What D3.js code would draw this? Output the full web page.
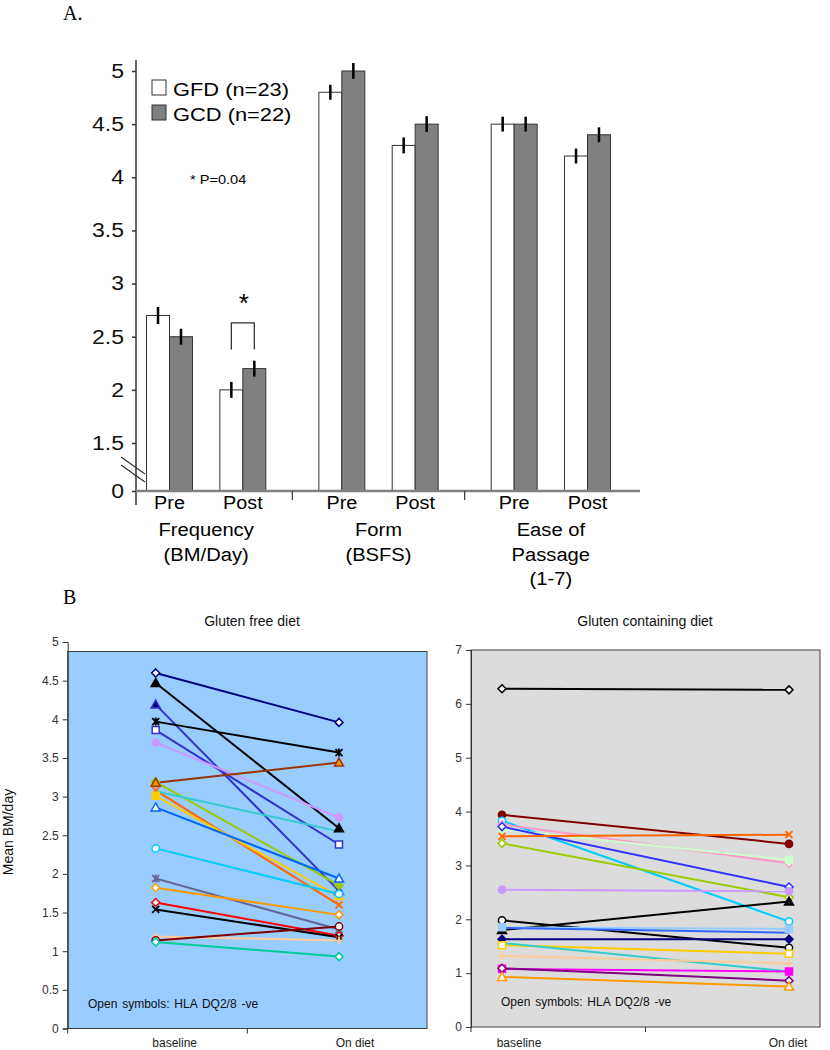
<!DOCTYPE html>
<html><head><meta charset="utf-8">
<script src="https://cdn.jsdelivr.net/npm/d3@7"></script>
<style>
body{margin:0;background:#fff;}
svg{display:block;font-family:"Liberation Sans",Arial,sans-serif;}
</style></head><body>
<svg id="chart" width="830" height="1050"></svg>
<script>
// ================= Panel A data =================
const groups = ["Frequency", "Form", "Ease"];
const groupLabels = [["Frequency", "(BM/Day)"], ["Form", "(BSFS)"], ["Ease of", "Passage", "(1-7)"]];
const phases = ["Pre", "Post"];
const diets = ["GFD", "GCD"];
const legendLabels = ["GFD (n=23)", "GCD (n=22)"];
// order: Freq Pre, Freq Post, Form Pre, Form Post, Ease Pre, Ease Post
const gfdMeans = [2.7, 2.0, 4.8, 4.3, 4.5, 4.2];
const gcdMeans = [2.5, 2.2, 5.0, 4.5, 4.5, 4.4];
const gfdErr = [0.08, 0.075, 0.07, 0.075, 0.07, 0.07];
const gcdErr = [0.075, 0.075, 0.075, 0.075, 0.07, 0.07];
const yTicksA = [0, 1.5, 2, 2.5, 3, 3.5, 4, 4.5, 5];
const bracketRange = [2.38, 2.63];

// ================= Panel B data =================
const dietCats = ["baseline", "On diet"];
const gfdBase = [4.60, 4.47, 4.19, 3.97, 3.86, 3.70, 3.19, 3.18, 3.08, 3.01, 3.07, 2.86, 2.33, 1.94, 1.82, 1.63, 1.54, 1.19, 1.14, 1.12];
const gfdOn   = [3.96, 2.59, 1.78, 3.57, 2.38, 2.73, 1.85, 3.44, 1.60, 1.71, 2.55, 1.94, 1.74, 1.28, 1.47, 1.20, 1.18, 1.14, 1.32, 0.93];
const gfdColors = ["#000080", "#000000", "#3333cc", "#000000", "#3333cc", "#cc99ff", "#99cc00", "#993300", "#ff6600", "#ffcc00",
                   "#33cccc", "#0066ff", "#00ccff", "#666699", "#ff9900", "#ff0000", "#000000", "#ffcc99", "#800000", "#00cc99"];
const gfdMarkers = ["diamond", "triangle", "triangle", "star", "square", "circle", "diamond", "triangle", "x", "square",
                    "none", "triangle", "circle", "star", "diamond", "diamond", "x", "plus", "circle", "diamond"];
const gfdFills = ["#ffffff", null, "#000080", null, "#ffffff", null, null, "#ff9900", null, null,
                  null, "#ffffff", "#ffffff", null, "#ffffff", "#ffffff", null, null, "#ffffff", "#ffffff"];

const gcdBase = [6.28, 3.94, 3.83, 3.76, 3.67, 3.72, 3.54, 3.41, 2.55, 1.98, 1.80, 1.85, 1.84, 1.63, 1.52, 1.56, 1.32, 1.08, 1.09, 0.93];
const gcdOn   = [6.26, 3.40, 1.96, 3.04, 3.10, 2.60, 3.57, 2.41, 2.52, 1.47, 2.33, 1.82, 1.75, 1.63, 1.36, 1.03, 1.18, 1.03, 0.86, 0.75];
const gcdColors = ["#000000", "#800000", "#00ccff", "#ff99cc", "#ccffcc", "#3333ff", "#ff6600", "#99cc00", "#cc99ff", "#000000",
                   "#000000", "#99ccff", "#3366ff", "#000080", "#ffcc00", "#33cccc", "#ffcc99", "#ff00ff", "#800080", "#ff9900"];
const gcdMarkers = ["diamond", "circle", "circle", "diamond", "square", "diamond", "x", "diamond", "circle", "circle",
                    "triangle", "square", "none", "diamond", "square", "none", "plus", "square", "diamond", "triangle"];
const gcdFills = ["#ffffff", null, "#ffffff", "#ffffff", null, "#ffffff", null, "#ffffff", null, "#ffffff",
                  null, null, null, null, "#ffffff", null, null, null, "#ffffff", "#ffffff"];

// ================= Drawing =================
const svg = d3.select("#chart");
const SERIF = '"Liberation Serif","Times New Roman",serif';

function stretch(sel, k) {
  sel.each(function () {
    const w = this.getComputedTextLength();
    this.setAttribute("textLength", w * k);
    this.setAttribute("lengthAdjust", "spacingAndGlyphs");
  });
}

// ---------- Panel A ----------
const A = svg.append("g");
A.append("text").attr("x", 63).attr("y", 20).attr("font-family", SERIF).attr("font-size", 20).text("A.");

const yA = d3.scaleLinear().domain([0, 1.5, 5]).range([491, 443, 71]);
const xG = d3.scaleBand().domain(groups).range([120, 637]);
const xP = d3.scaleBand().domain(phases).range([0, xG.bandwidth()]).paddingOuter(0.175);
const xD = d3.scaleBand().domain(diets).range([0, xP.bandwidth()]).paddingOuter(0.596);

const rows = [];
groups.forEach((g, gi) => phases.forEach((p, pi) => {
  const i = gi * 2 + pi;
  rows.push({ g, p, diet: "GFD", v: gfdMeans[i], e: gfdErr[i] });
  rows.push({ g, p, diet: "GCD", v: gcdMeans[i], e: gcdErr[i] });
}));
const barX = d => xG(d.g) + xP(d.p) + xD(d.diet);
const barC = d => barX(d) + xD.bandwidth() / 2;

A.selectAll("rect.bar").data(rows).join("rect")
  .attr("class", "bar")
  .attr("x", barX).attr("width", xD.bandwidth())
  .attr("y", d => yA(d.v)).attr("height", d => yA(0) - yA(d.v))
  .attr("fill", d => d.diet === "GFD" ? "#ffffff" : "#808080")
  .attr("stroke", "#333").attr("stroke-width", 1);

A.selectAll("line.err").data(rows).join("line")
  .attr("x1", barC).attr("x2", barC)
  .attr("y1", d => yA(d.v + d.e)).attr("y2", d => yA(d.v - d.e))
  .attr("stroke", "#000").attr("stroke-width", 2.5);

// y axis
const yAxisA = A.append("g").attr("transform", "translate(136,0)")
  .call(d3.axisLeft(yA).tickValues(yTicksA).tickSize(4).tickPadding(8).tickFormat(d => String(d)));
yAxisA.select(".domain").remove();
yAxisA.selectAll(".tick line").attr("stroke", "#333").attr("stroke-width", 1.5);
yAxisA.selectAll(".tick text").attr("font-size", 20).attr("fill", "#111")
  .attr("font-family", '"Liberation Sans",Arial,sans-serif').call(stretch, 1.15);
A.append("line").attr("x1", 136).attr("x2", 136).attr("y1", 60).attr("y2", 505)
  .attr("stroke", "#333").attr("stroke-width", 1.5);

// x axis
A.append("line").attr("x1", 136).attr("x2", 640).attr("y1", yA(0)).attr("y2", yA(0))
  .attr("stroke", "#808080").attr("stroke-width", 2.5);
A.selectAll("line.sep").data(groups.slice(1)).join("line")
  .attr("x1", d => xG(d)).attr("x2", d => xG(d)).attr("y1", yA(0)).attr("y2", yA(0) + 9)
  .attr("stroke", "#333").attr("stroke-width", 1.2);

// axis break marks
[0, 8].forEach(off => {
  A.append("line").attr("x1", 121).attr("y1", 457 + off).attr("x2", 145).attr("y2", 474 + off)
    .attr("stroke", "#333").attr("stroke-width", 1.2);
});

// phase labels
const phaseRows = [];
groups.forEach(g => phases.forEach(p => phaseRows.push({ g, p })));
A.selectAll("text.ph").data(phaseRows).join("text")
  .attr("x", d => xG(d.g) + xP(d.p) + xP.bandwidth() / 2).attr("y", 509)
  .attr("text-anchor", "middle").attr("font-size", 18).text(d => d.p).call(stretch, 1.1);

// group labels
groups.forEach((g, gi) => {
  groupLabels[gi].forEach((t, li) => {
    A.append("text").attr("x", xG(g) + xG.bandwidth() / 2).attr("y", 536 + li * 24.5)
      .attr("text-anchor", "middle").attr("font-size", 18).text(t).call(stretch, 1.12);
  });
});

// legend
diets.forEach((d, i) => {
  A.append("rect").attr("x", 152).attr("y", 80 + i * 25).attr("width", 14).attr("height", 15)
    .attr("fill", i === 0 ? "#ffffff" : "#808080").attr("stroke", "#333").attr("stroke-width", 1);
  A.append("text").attr("x", 173).attr("y", 96 + i * 24.5).attr("font-size", 19)
    .text(legendLabels[i]).call(stretch, 1.15);
});
A.append("text").attr("x", 190).attr("y", 184).attr("font-size", 13).text("* P=0.04").call(stretch, 1.12);

// significance bracket
const postGFD = rows.find(r => r.g === "Frequency" && r.p === "Post" && r.diet === "GFD");
const postGCD = rows.find(r => r.g === "Frequency" && r.p === "Post" && r.diet === "GCD");
const bx1 = barC(postGFD), bx2 = barC(postGCD);
A.append("path")
  .attr("d", `M${bx1},${yA(bracketRange[0])}V${yA(bracketRange[1])}H${bx2}V${yA(bracketRange[0])}`)
  .attr("fill", "none").attr("stroke", "#333").attr("stroke-width", 1.3);
A.append("text").attr("x", (bx1 + bx2) / 2 + 1).attr("y", 312).attr("text-anchor", "middle")
  .attr("font-size", 26).text("*");

// ---------- Panel B ----------
const B = svg.append("g");
B.append("text").attr("x", 63).attr("y", 604).attr("font-family", SERIF).attr("font-size", 20).text("B");

function markerPath(shape) {
  switch (shape) {
    case "diamond": return "M0,-4L4,0L0,4L-4,0Z";
    case "triangle": return "M0,-4.5L4.5,3.5L-4.5,3.5Z";
    case "square": return "M-3.5,-3.5H3.5V3.5H-3.5Z";
    case "circle": return "M3.6,0A3.6,3.6 0 1,1 -3.6,0A3.6,3.6 0 1,1 3.6,0Z";
    case "x": return "M-3.5,-3.5L3.5,3.5M-3.5,3.5L3.5,-3.5";
    case "star": return "M-3.5,-3.5L3.5,3.5M-3.5,3.5L3.5,-3.5M0,-4V4";
    case "plus": return "M-4,0H4M0,-4V4";
    default: return "";
  }
}

function drawPanel(opts) {
  const { x0, x1, yTop, y, x, base, on, colors, markers, fills, ticks, title, titleX, labelDx } = opts;
  const g = B.append("g");
  const y0 = y(0);
  g.append("rect").attr("x", x0).attr("y", yTop).attr("width", x1 - x0).attr("height", y0 - yTop)
    .attr("fill", opts.bg).attr("stroke", "#404040").attr("stroke-width", 1);
  // y axis
  const ax = g.append("g").attr("transform", `translate(${x0},0)`)
    .call(d3.axisLeft(y).tickValues(ticks).tickSize(5).tickPadding(4).tickFormat(d => String(d)));
  ax.select(".domain").attr("stroke", "#333");
  ax.selectAll(".tick line").attr("stroke", "#333");
  ax.selectAll(".tick text").attr("font-size", 12).attr("fill", "#333")
    .attr("font-family", '"Liberation Sans",Arial,sans-serif');
  // x ticks (category boundaries)
  [x0, (x0 + x1) / 2].forEach(t => {
    g.append("line").attr("x1", t).attr("x2", t).attr("y1", y0).attr("y2", y0 + 5).attr("stroke", "#333");
  });
  dietCats.forEach((c, i) => {
    g.append("text").attr("x", x(c) + labelDx[i]).attr("y", 1047).attr("text-anchor", "middle")
      .attr("font-size", 12).attr("fill", "#222").text(c);
  });
  g.append("text").attr("x", titleX).attr("y", 626).attr("text-anchor", "middle")
    .attr("font-size", 14).attr("fill", "#111").text(title);
  g.append("text").attr("x", opts.noteX).attr("y", opts.noteY).attr("font-size", 12)
    .attr("fill", "#111").attr("word-spacing", 1.5).text("Open symbols: HLA DQ2/8 -ve");

  const series = base.map((b, i) => ({ b, o: on[i], c: colors[i], m: markers[i], f: fills[i] }));
  g.selectAll("line.s").data(series).join("line")
    .attr("x1", x(dietCats[0])).attr("x2", x(dietCats[1]))
    .attr("y1", d => y(d.b)).attr("y2", d => y(d.o))
    .attr("stroke", d => d.c).attr("stroke-width", 2);
  const pts = [];
  series.forEach(s => {
    if (s.m === "none") return;
    pts.push({ s, cx: x(dietCats[0]), cy: y(s.b) });
    pts.push({ s, cx: x(dietCats[1]), cy: y(s.o) });
  });
  g.selectAll("path.mk").data(pts).join("path")
    .attr("transform", d => `translate(${d.cx},${d.cy})`)
    .attr("d", d => markerPath(d.s.m))
    .attr("fill", d => (d.s.m === "x" || d.s.m === "star" || d.s.m === "plus") ? "none" : (d.s.f || d.s.c))
    .attr("stroke", d => d.s.c)
    .attr("stroke-width", d => (d.s.m === "x" || d.s.m === "star" || d.s.m === "plus") ? 1.8 : 1.5);
}

const yL = d3.scaleLinear().domain([0, 5]).range([1028.5, 642]);
const xL = d3.scalePoint().domain(dietCats).range([67.7, 427]).padding(0.48);
drawPanel({
  x0: 67.7, x1: 427, yTop: yL(5) + 9.5, y: yL, x: xL, base: gfdBase, on: gfdOn,
  colors: gfdColors, markers: gfdMarkers, fills: gfdFills, ticks: d3.range(0, 5.01, 0.5),
  title: "Gluten free diet", titleX: 252, labelDx: [19, 16], bg: "#99ccff", noteX: 88, noteY: 1008
});

const yR = d3.scaleLinear().domain([0, 7]).range([1027, 650]);
const xR = d3.scalePoint().domain(dietCats).range([471, 820]).padding(0.108);
drawPanel({
  x0: 471, x1: 820, yTop: yR(7), y: yR, x: xR, base: gcdBase, on: gcdOn,
  colors: gcdColors, markers: gcdMarkers, fills: gcdFills, ticks: d3.range(0, 8, 1),
  title: "Gluten containing diet", titleX: 645, labelDx: [17, -1], bg: "#dcdcdc", noteX: 501, noteY: 1006
});

B.append("text").attr("transform", "translate(13,832) rotate(-90)").attr("text-anchor", "middle")
  .attr("font-size", 14).attr("fill", "#111").text("Mean BM/day");
</script>
</body></html>
